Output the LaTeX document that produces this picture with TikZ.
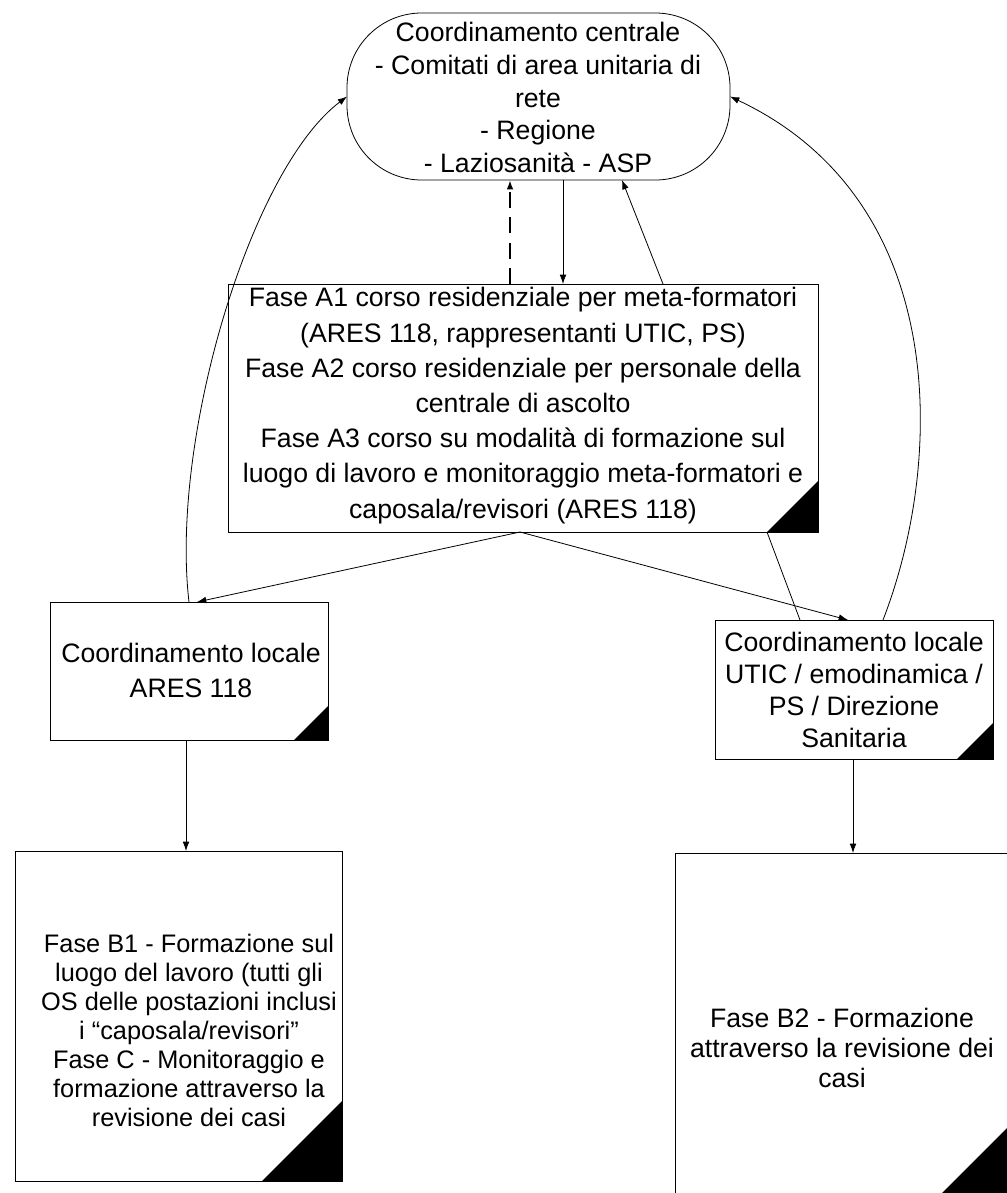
\documentclass[tikz,border=0pt]{standalone}
\usepackage{fontspec}
\setmainfont{Liberation Sans}
\usetikzlibrary{arrows.meta,calc,fit}
\begin{document}
\begin{tikzpicture}[x=0.75pt,y=-0.75pt,
  box/.style={draw, line width=0.6pt, inner sep=0pt, outer sep=0pt},
  txt/.style={align=center, inner sep=0pt},
  conn/.style={line width=0.6pt},
  arr/.style={conn, -{Latex[length=7pt,width=5pt]}},
  dasharr/.style={line width=1.5pt, dash pattern=on 12pt off 7pt, -{Latex[length=7pt,width=5pt]}},
  corner/.style={fill=black},
]
\useasboundingbox (0,0) rectangle (1007,1193);
\clip (0,0) rectangle (1007,1193);

% boxes
\node[box, rounded corners=56pt, fit={(347,13) (730,180)}] (stad) {};
\node[box, fit={(228,284) (818,532)}] (cbox) {};
\node[box, fit={(50,602) (328,740)}] (lbox) {};
\node[box, fit={(715,620) (993,759)}] (rbox) {};
\node[box, fit={(15,851) (342,1181)}] (bl) {};
\node[box, fit={(675,853) (1015,1200)}] (br) {};

% black corner triangles
\fill[corner] (cbox.south east) -- ++(-51,0) -- ++(51,-51) -- cycle;
\fill[corner] (lbox.south east) -- ++(-34,0) -- ++(34,-34) -- cycle;
\fill[corner] (rbox.south east) -- ++(-36,0) -- ++(36,-36) -- cycle;
\fill[corner] (bl.south east) -- ++(-80,0) -- ++(80,-80) -- cycle;
\fill[corner] (br.south east) -- ++(-80,0) -- ++(80,-80) -- cycle;

% texts
\node[txt, font=\fontsize{20}{24.5}\selectfont] (stadtxt) at (538,97.5)
  {Coordinamento centrale\\- Comitati di area unitaria di\\rete\\- Regione\\- Laziosanità - ASP};
\node[txt, font=\fontsize{20}{26.4}\selectfont] (ctxt) at (523,405.5)
  {Fase A1 corso residenziale per meta-formatori\\(ARES 118, rappresentanti UTIC, PS)\\Fase A2 corso residenziale per personale della\\centrale di ascolto\\Fase A3 corso su modalità di formazione sul\\luogo di lavoro e monitoraggio meta-formatori e\\caposala/revisori (ARES 118)};
\node[txt, font=\fontsize{20}{26.25}\selectfont] (ltxt) at (191,670)
  {Coordinamento locale\\ARES 118};
\node[txt, font=\fontsize{20}{24}\selectfont] (rtxt) at (854,690)
  {Coordinamento locale\\UTIC / emodinamica /\\PS / Direzione\\Sanitaria};
\node[txt, font=\fontsize{19}{21.75}\selectfont] (bltxt) at (189,1030)
  {Fase B1 - Formazione sul\\luogo del lavoro (tutti gli\\OS delle postazioni inclusi\\i “caposala/revisori”\\Fase C - Monitoraggio e\\formazione attraverso la\\revisione dei casi};
\node[txt, font=\fontsize{20}{22.5}\selectfont] (brtxt) at (842,1048)
  {Fase B2 - Formazione\\attraverso la revisione dei\\casi};

% connectors between centre box and stadium
\draw[dasharr] ($(cbox.north)+(-13,0)$) -- ($(stad.south)+(-28.5,0)$);
\draw[arr] ($(stad.south)+(24.5,0)$) -- ($(cbox.north)+(40,0)$);
\draw[arr] ($(cbox.north)+(140,0)$) -- ($(stad.south)+(83.5,0)$);

% centre box to local boxes
\coordinate (cfork) at ($(cbox.south)+(-3,0)$);
\draw[arr] (cfork) -- ($(lbox.north)+(8,0)$);
\draw[arr] (cfork) -- ($(rbox.north)+(-6,0)$);
\draw[conn] ($(cbox.south)+(244,0)$) -- ($(rbox.north)+(-54,0)$);

% feedback curves to stadium
\draw[arr] (lbox.north) .. controls (170,440) and (250,170) .. (stad.west);
\draw[arr] ($(rbox.north)+(29,0)$) .. controls (945,460) and (950,200) .. (stad.east);

% local boxes to bottom boxes
\draw[arr] ($(lbox.south)+(-3,0)$) -- ($(bl.north)+(7.5,0)$);
\draw[arr] ($(rbox.south)+(-1,0)$) -- ($(br.north)+(8,0)$);
\end{tikzpicture}
\end{document}
